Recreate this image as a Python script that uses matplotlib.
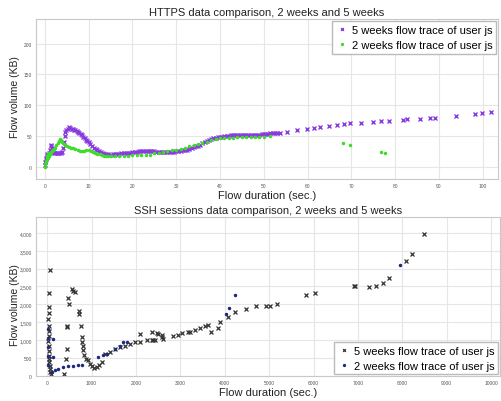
import matplotlib
matplotlib.use("Agg")
import matplotlib.pyplot as plt
from matplotlib.ticker import FuncFormatter

# ---------------- HTTPS (top) ----------------
https_5w_x = [0.0, 0.1, 0.2, 0.3, 0.4, 0.5, 0.7, 0.9, 1.1, 1.3, 1.5, 1.7, 1.9, 2.1, 2.4, 2.7, 3.0, 3.3, 3.6, 3.9,
              4.1, 4.3, 4.5, 4.7, 4.9, 5.2, 5.5, 5.8, 6.1, 6.4, 6.7, 7.0, 7.3, 7.6, 7.9, 8.2, 8.5, 8.8, 9.1, 9.4,
              9.7, 10.0, 10.4, 10.8, 11.2, 11.6, 12.0, 12.4, 12.8, 13.2, 13.6, 14.0, 14.5, 15.0, 15.5, 16.0, 16.5,
              17.0, 17.5, 18.0, 18.5, 19.0, 19.5, 20.0, 20.5, 21.0, 21.5, 22.0, 22.5, 23.0, 23.5, 24.0, 24.5, 25.0,
              25.5, 26.0, 26.5, 27.0, 27.5, 28.0, 28.5, 29.0, 29.5, 30.0, 30.5, 31.0, 31.5, 32.0, 32.5, 33.0, 33.5,
              34.0, 34.5, 35.0, 35.5, 36.0, 36.5, 37.0, 37.5, 38.0, 38.5, 39.0, 39.5, 40.0, 40.5, 41.0, 41.5, 42.0,
              42.5, 43.0, 43.5, 44.0, 44.5, 45.0, 45.5, 46.0, 46.5, 47.0, 47.5, 48.0, 48.5, 49.0, 49.5, 50.0, 50.5,
              51.0, 51.5, 52.0, 52.5, 53.0, 53.8, 55.3, 57.6, 59.9, 61.4, 62.9, 64.8, 66.7, 68.3, 69.8, 72.1, 75.0,
              76.7, 78.6, 81.7, 82.8, 85.6, 87.9, 89.0, 93.8, 98.2, 99.9, 102.0]
https_5w_y = [3, 8, 12, 15, 18, 20, 19, 22, 28, 33, 35, 30, 24, 22, 23, 22, 23, 22, 23, 24,
              30, 40, 50, 57, 60, 62, 64, 63, 62, 61, 60, 59, 58, 57, 55, 53, 51, 48, 46, 44,
              42, 40, 37, 34, 31, 29, 27, 25, 24, 22, 21, 20, 20, 19.5, 20, 20.5, 21,
              21, 22, 22, 22.5, 23, 23, 24, 24, 24.5, 25, 25, 25, 25.5, 25.5, 26, 25.5, 25,
              24.5, 24, 24, 23.5, 23.5, 23.5, 24, 24, 24.5, 25, 25.5, 26, 26.5, 27, 28, 29, 30,
              31.5, 33, 34.5, 36, 38, 40, 41.5, 43, 44.5, 46, 47, 48, 48.5, 49, 49.5, 50, 50.5,
              51, 51, 51.5, 51.5, 51.5, 51, 51.5, 51.5, 51, 51, 51.5, 52, 52, 52, 52.5, 53, 53.5,
              54, 54.5, 55, 55, 55.5, 55.4, 57, 59, 60.8, 62.9, 64.6, 66.2, 68.4, 69.5, 70.6, 71.7, 73,
              74.4, 74.4, 76, 77, 77.6, 78.7, 79, 83, 85.8, 86.9, 89]

https_2w_x = [0.0, 0.1, 0.2, 0.3, 0.4, 0.5, 0.6, 0.7, 0.8, 0.9, 1.0, 1.2, 1.4, 1.6, 1.8, 2.0, 2.3, 2.6, 2.9, 3.2,
              3.5, 3.8, 4.0, 4.3, 4.6, 5.0, 5.5, 6.0, 6.5, 7.0, 7.5, 8.0, 8.5, 9.0, 9.5, 10.0, 10.5, 11.0, 11.5,
              12.0, 12.5, 13.0, 13.5, 14.0, 14.5, 15.0, 16.0, 17.0, 18.0, 19.0, 20.0, 21.0, 22.0, 23.0, 24.0,
              25.0, 26.0, 27.0, 28.0, 29.0, 30.0, 31.0, 32.0, 33.0, 34.0, 35.0, 36.0, 37.0, 38.0, 39.0, 40.0,
              41.0, 42.0, 43.0, 44.0, 45.0, 46.0, 47.0, 48.0, 49.0, 50.0, 51.5, 68.1, 69.6, 76.8, 77.6]
https_2w_y = [0, 5, 10, 8, 14, 12, 17, 15, 20, 18, 22, 20, 24, 26, 27, 29, 31, 35, 39, 42,
              45, 44, 40, 37, 35, 34, 32, 31, 30, 29, 27, 26, 25.5, 26, 27, 27, 25.5, 24, 22,
              21, 20, 19, 18, 17.5, 17, 17, 17.5, 17.5, 18, 18, 18.5, 18.5, 19, 19, 19.5,
              22, 23, 24, 26, 27, 28, 29, 31, 33, 35, 37, 39, 41, 43, 45, 46,
              47, 47, 47.5, 48, 48, 48, 48.5, 48, 48.3, 49, 50, 38.5, 35.3, 24.4, 22.8]

# ---------------- SSH (bottom) ----------------
ssh_5w_x = [67, 52, 30, 35, 25, 40, 30, 45, 28, 38, 50, 32, 44, 36, 55, 60, 70, 80,
            382, 427, 442, 456, 456, 479, 501, 555, 591, 629, 726, 726, 757,
            779, 794, 801, 816, 839, 876, 929, 966, 1004, 1056, 1117, 1176, 1229,
            1303, 1416, 1528, 1640, 1753, 1865, 1978, 2090, 2240, 2352, 2374, 2427, 2464,
            2577, 2614, 2838, 2950, 3026, 3176, 3213, 3326, 3438, 3551, 3625, 3700, 3850,
            3888, 4075, 4225, 4472, 4697, 4936, 5026, 5184, 5820, 6038, 6906, 6944,
            7258, 7408, 7558, 7708, 8083, 8210, 8479, 2090, 2352, 2502, 2577]
ssh_5w_y = [2970, 2320, 1918, 1770, 1585, 1400, 1260, 1120, 980, 840, 700, 560, 467, 373, 280, 186, 93, 40,
            56, 475, 754, 1405, 1360, 2170, 2011, 2430, 2383, 2337, 1825, 1730, 1405,
            1080, 940, 830, 707, 567, 475, 428, 335, 268, 214, 242, 307, 382,
            614, 661, 735, 801, 846, 894, 940, 958, 987, 987, 1005, 1005, 1192,
            1127, 1015, 1108, 1140, 1200, 1220, 1238, 1290, 1331, 1388, 1434, 1220, 1331,
            1518, 1638, 1778, 1870, 1947, 1964, 1964, 2002, 2253, 2327, 2523, 2523,
            2486, 2523, 2607, 2747, 3212, 3417, 3957, 1173, 1220, 1173, 1080]

ssh_2w_x = [20, 15, 25, 20, 18, 128, 128, 105, 180, 254, 366, 479, 591, 703, 779,
            1154, 1266, 1341, 1528, 1640, 1715, 1790, 4022, 4098, 4240, 7955]
ssh_2w_y = [1300, 1050, 800, 560, 300, 1033, 522, 103, 150, 196, 242, 261, 270, 289, 307,
            522, 567, 614, 754, 846, 940, 940, 1731, 1890, 2270, 3100]

# ---------------- text ----------------
title_top = "HTTPS data comparison, 2 weeks and 5 weeks"
title_bottom = "SSH sessions data comparison, 2 weeks and 5 weeks"
xlabel = "Flow duration (sec.)"
ylabel = "Flow volume (KB)"
label_5w = "5 weeks flow trace of user js"
label_2w = "2 weeks flow trace of user js"

top_xticks = [0, 10, 20, 30, 40, 50, 60, 70, 80, 90, 100]
top_yticks = [0, 50, 100, 150, 200]
bot_xticks = [0, 1000, 2000, 3000, 4000, 5000, 6000, 7000, 8000, 9000, 10000]
bot_yticks = [0, 500, 1000, 1500, 2000, 2500, 3000, 3500, 4000]

plt.rcParams['font.family'] = ['Liberation Sans', 'DejaVu Sans']

fig = plt.figure(figsize=(5.01, 4.02), dpi=100)
ax1 = fig.add_axes([0.072, 0.552, 0.922, 0.398])
ax2 = fig.add_axes([0.072, 0.062, 0.926, 0.396])

purple = '#8a3be0'
green = '#3ddc2a'
dark = '#333333'
navy = '#1c2a80'

ax1.plot(https_5w_x, https_5w_y, linestyle='none', marker='x', ms=2.2, mew=1.0, color=purple, label=label_5w)
ax1.plot(https_2w_x, https_2w_y, linestyle='none', marker='.', ms=3.0, color=green, label=label_2w)
ax1.set_xlim(-2, 103.5)
ax1.set_ylim(-20, 240)
ax1.set_xticks(top_xticks)
ax1.set_yticks(top_yticks)

ax2.plot(ssh_5w_x, ssh_5w_y, linestyle='none', marker='x', ms=2.2, mew=0.9, color=dark, label=label_5w)
ax2.plot(ssh_2w_x, ssh_2w_y, linestyle='none', marker='.', ms=3.0, color=navy, label=label_2w)
ax2.set_xlim(-250, 10200)
ax2.set_ylim(-10, 4450)
ax2.set_xticks(bot_xticks)
ax2.set_yticks(bot_yticks)
ax2.yaxis.set_major_formatter(FuncFormatter(lambda v, p: f"{int(v):,}"))

for ax, t in ((ax1, title_top), (ax2, title_bottom)):
    ax.grid(True, color='#e6e6e6', linewidth=0.8)
    ax.set_axisbelow(True)
    for s in ax.spines.values():
        s.set_color('#c8c8c8')
        s.set_linewidth(0.8)
    ax.tick_params(labelsize=3.5, length=0, pad=3, colors='#555555')
    ax.set_title(t, fontsize=8, pad=3, color='#222222')
    ax.set_xlabel(xlabel, fontsize=8, labelpad=1, color='#222222')
    ax.set_ylabel(ylabel, fontsize=7.5, color='#222222')

ax1.yaxis.set_label_coords(-0.035, 0.52)
ax2.yaxis.set_label_coords(-0.035, 0.45)

leg_kw = dict(fontsize=8, markerscale=0.9, handlelength=1.0, handletextpad=0.4, borderaxespad=0.15,
              fancybox=False, edgecolor='#bbbbbb', framealpha=1, borderpad=0.35, labelspacing=0.45)
ax1.legend(loc='upper right', **leg_kw)
ax2.legend(loc='lower right', **leg_kw)

fig.savefig('out.png', dpi=100)
